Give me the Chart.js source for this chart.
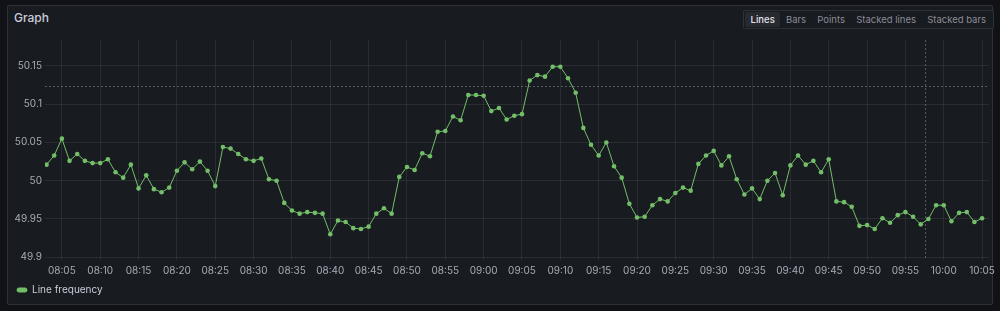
<!DOCTYPE html>
<html>
<head>
<meta charset="utf-8">
<script src="https://cdn.jsdelivr.net/npm/chart.js@4.4.1/dist/chart.umd.min.js"></script>
<style>
  html, body { margin:0; padding:0; background:#111217; width:1000px; height:311px; overflow:hidden; font-family:Inter, "Noto Sans", sans-serif; }
  .panel { position:absolute; left:7px; top:5px; width:984px; height:298px; background:#181b1f; border:1px solid rgba(204,204,220,0.12); border-radius:2px; }
  .title { position:absolute; left:14px; top:10px; font-size:12px; font-weight:500; color:#ccccdc; line-height:16px; }
  .group { position:absolute; left:743px; top:10px; height:15px; border:1px solid rgba(204,204,220,0.12); border-radius:2px; display:flex; padding:1px; background:#181b1f; }
  .btn { font-size:9.5px; color:rgba(204,204,220,0.65); padding:0 5.6px; line-height:15px; border-radius:2px; white-space:nowrap; }
  .btn.active { background:#272a31; color:#e2e2ea; font-weight:500; }
  canvas { position:absolute; left:0; top:0; }
</style>
</head>
<body>
<div class="panel"></div>
<div class="title">Graph</div>
<div class="group">
  <div class="btn active">Lines</div>
  <div class="btn">Bars</div>
  <div class="btn">Points</div>
  <div class="btn">Stacked lines</div>
  <div class="btn">Stacked bars</div>
</div>
<canvas id="c" width="1000" height="311"></canvas>
<script>
const seriesName = 'Line frequency';
const times = [
 '08:03','08:04','08:05','08:06','08:07','08:08','08:09',
 '08:10','08:11','08:12','08:13','08:14','08:15','08:16','08:17','08:18','08:19',
 '08:20','08:21','08:22','08:23','08:24','08:25','08:26','08:27','08:28','08:29',
 '08:30','08:31','08:32','08:33','08:34','08:35','08:36','08:37','08:38','08:39',
 '08:40','08:41','08:42','08:43','08:44','08:45','08:46','08:47','08:48','08:49',
 '08:50','08:51','08:52','08:53','08:54','08:55','08:56','08:57','08:58','08:59',
 '09:00','09:01','09:02','09:03','09:04','09:05','09:06','09:07','09:08','09:09',
 '09:10','09:11','09:12','09:13','09:14','09:15','09:16','09:17','09:18','09:19',
 '09:20','09:21','09:22','09:23','09:24','09:25','09:26','09:27','09:28','09:29',
 '09:30','09:31','09:32','09:33','09:34','09:35','09:36','09:37','09:38','09:39',
 '09:40','09:41','09:42','09:43','09:44','09:45','09:46','09:47','09:48','09:49',
 '09:50','09:51','09:52','09:53','09:54','09:55','09:56','09:57','09:58','09:59',
 '10:00','10:01','10:02','10:03','10:04','10:05'
];
const frequency = [
 50.021,50.033,50.055,50.026,50.035,50.026,50.023,
 50.023,50.028,50.011,50.004,50.021,49.990,50.007,49.989,49.985,49.991,
 50.013,50.024,50.015,50.025,50.013,49.993,50.044,50.042,50.035,50.028,
 50.026,50.029,50.002,50.000,49.971,49.961,49.957,49.959,49.958,49.957,
 49.930,49.948,49.946,49.938,49.937,49.940,49.957,49.964,49.957,50.005,
 50.018,50.014,50.036,50.032,50.064,50.065,50.084,50.079,50.112,50.112,
 50.111,50.091,50.095,50.080,50.085,50.087,50.131,50.138,50.136,50.149,
 50.149,50.134,50.115,50.069,50.047,50.033,50.050,50.019,50.004,49.970,
 49.952,49.953,49.968,49.976,49.973,49.984,49.991,49.987,50.022,50.033,
 50.039,50.020,50.032,50.002,49.982,49.990,49.976,50.000,50.010,49.981,
 50.020,50.033,50.021,50.026,50.011,50.028,49.973,49.972,49.966,49.941,
 49.942,49.937,49.951,49.945,49.955,49.959,49.953,49.943,49.950,49.968,
 49.968,49.947,49.958,49.959,49.946,49.951
];
const xRange = ['08:02.8', '10:05.9'];
const yRange = [49.8964, 50.1839];
const yTickStep = 0.05;
const xTickStepMinutes = 5;
const cursorTime = '09:57.5';
const cursorValue = 50.1244;

function toMin(s) { const [h, m] = s.split(':'); return parseInt(h, 10) * 60 + parseFloat(m); }
function fmt(v) { const h = Math.floor(v / 60), m = Math.round(v - h * 60); return String(h).padStart(2,'0') + ':' + String(m).padStart(2,'0'); }

const points = times.map((t, i) => ({ x: toMin(t), y: frequency[i] }));

const crosshair = {
  id: 'crosshair',
  beforeDatasetsDraw(chart) {
    const { ctx, chartArea, scales } = chart;
    const px = scales.x.getPixelForValue(toMin(cursorTime));
    const py = scales.y.getPixelForValue(cursorValue);
    ctx.save();
    ctx.strokeStyle = 'rgba(204,204,220,0.35)';
    ctx.lineWidth = 1;
    ctx.setLineDash([2, 2]);
    ctx.beginPath();
    ctx.moveTo(chartArea.left, Math.round(py) + 0.5);
    ctx.lineTo(chartArea.right, Math.round(py) + 0.5);
    ctx.moveTo(Math.round(px) + 0.5, chartArea.top);
    ctx.lineTo(Math.round(px) + 0.5, chartArea.bottom);
    ctx.stroke();
    ctx.restore();
  }
};

const green = '#73BF69';
const gridColor = 'rgba(240,250,255,0.08)';
const tickColor = 'rgba(204,204,220,0.8)';

new Chart(document.getElementById('c'), {
  type: 'line',
  data: {
    datasets: [{
      label: seriesName,
      data: points,
      borderColor: green,
      backgroundColor: green,
      borderWidth: 1,
      pointRadius: 2.3,
      pointBorderWidth: 0,
      pointBackgroundColor: green,
      tension: 0,
      fill: false
    }]
  },
  options: {
    responsive: false,
    devicePixelRatio: 1,
    animation: false,
    layout: { padding: { left: 7, right: 10, top: 40, bottom: 6 } },
    scales: {
      x: {
        type: 'linear',
        min: toMin(xRange[0]),
        max: toMin(xRange[1]),
        border: { display: false },
        grid: { color: gridColor, drawTicks: false },
        ticks: {
          stepSize: xTickStepMinutes,
          includeBounds: false,
          autoSkip: false,
          maxRotation: 0,
          padding: 5,
          color: tickColor,
          font: { family: 'Inter', size: 10 },
          callback: v => fmt(v)
        },
        afterFit(s) { s.height = 15; }
      },
      y: {
        min: yRange[0],
        max: yRange[1],
        border: { display: false },
        grid: { color: gridColor, drawTicks: false },
        ticks: {
          stepSize: yTickStep,
          includeBounds: false,
          padding: 3,
          color: tickColor,
          font: { family: 'Inter', size: 10 },
          callback: v => String(Math.round(v * 100) / 100)
        },
        afterFit(s) { s.width = 38; }
      }
    },
    plugins: {
      legend: {
        position: 'bottom',
        align: 'start',
        labels: {
          color: '#ccccdc',
          font: { family: 'Inter', size: 10 },
          boxWidth: 10,
          boxHeight: 4,
          padding: 10,
          useBorderRadius: true,
          borderRadius: 2
        }
      },
      tooltip: { enabled: false }
    }
  },
  plugins: [crosshair]
});
</script>
</body>
</html>
